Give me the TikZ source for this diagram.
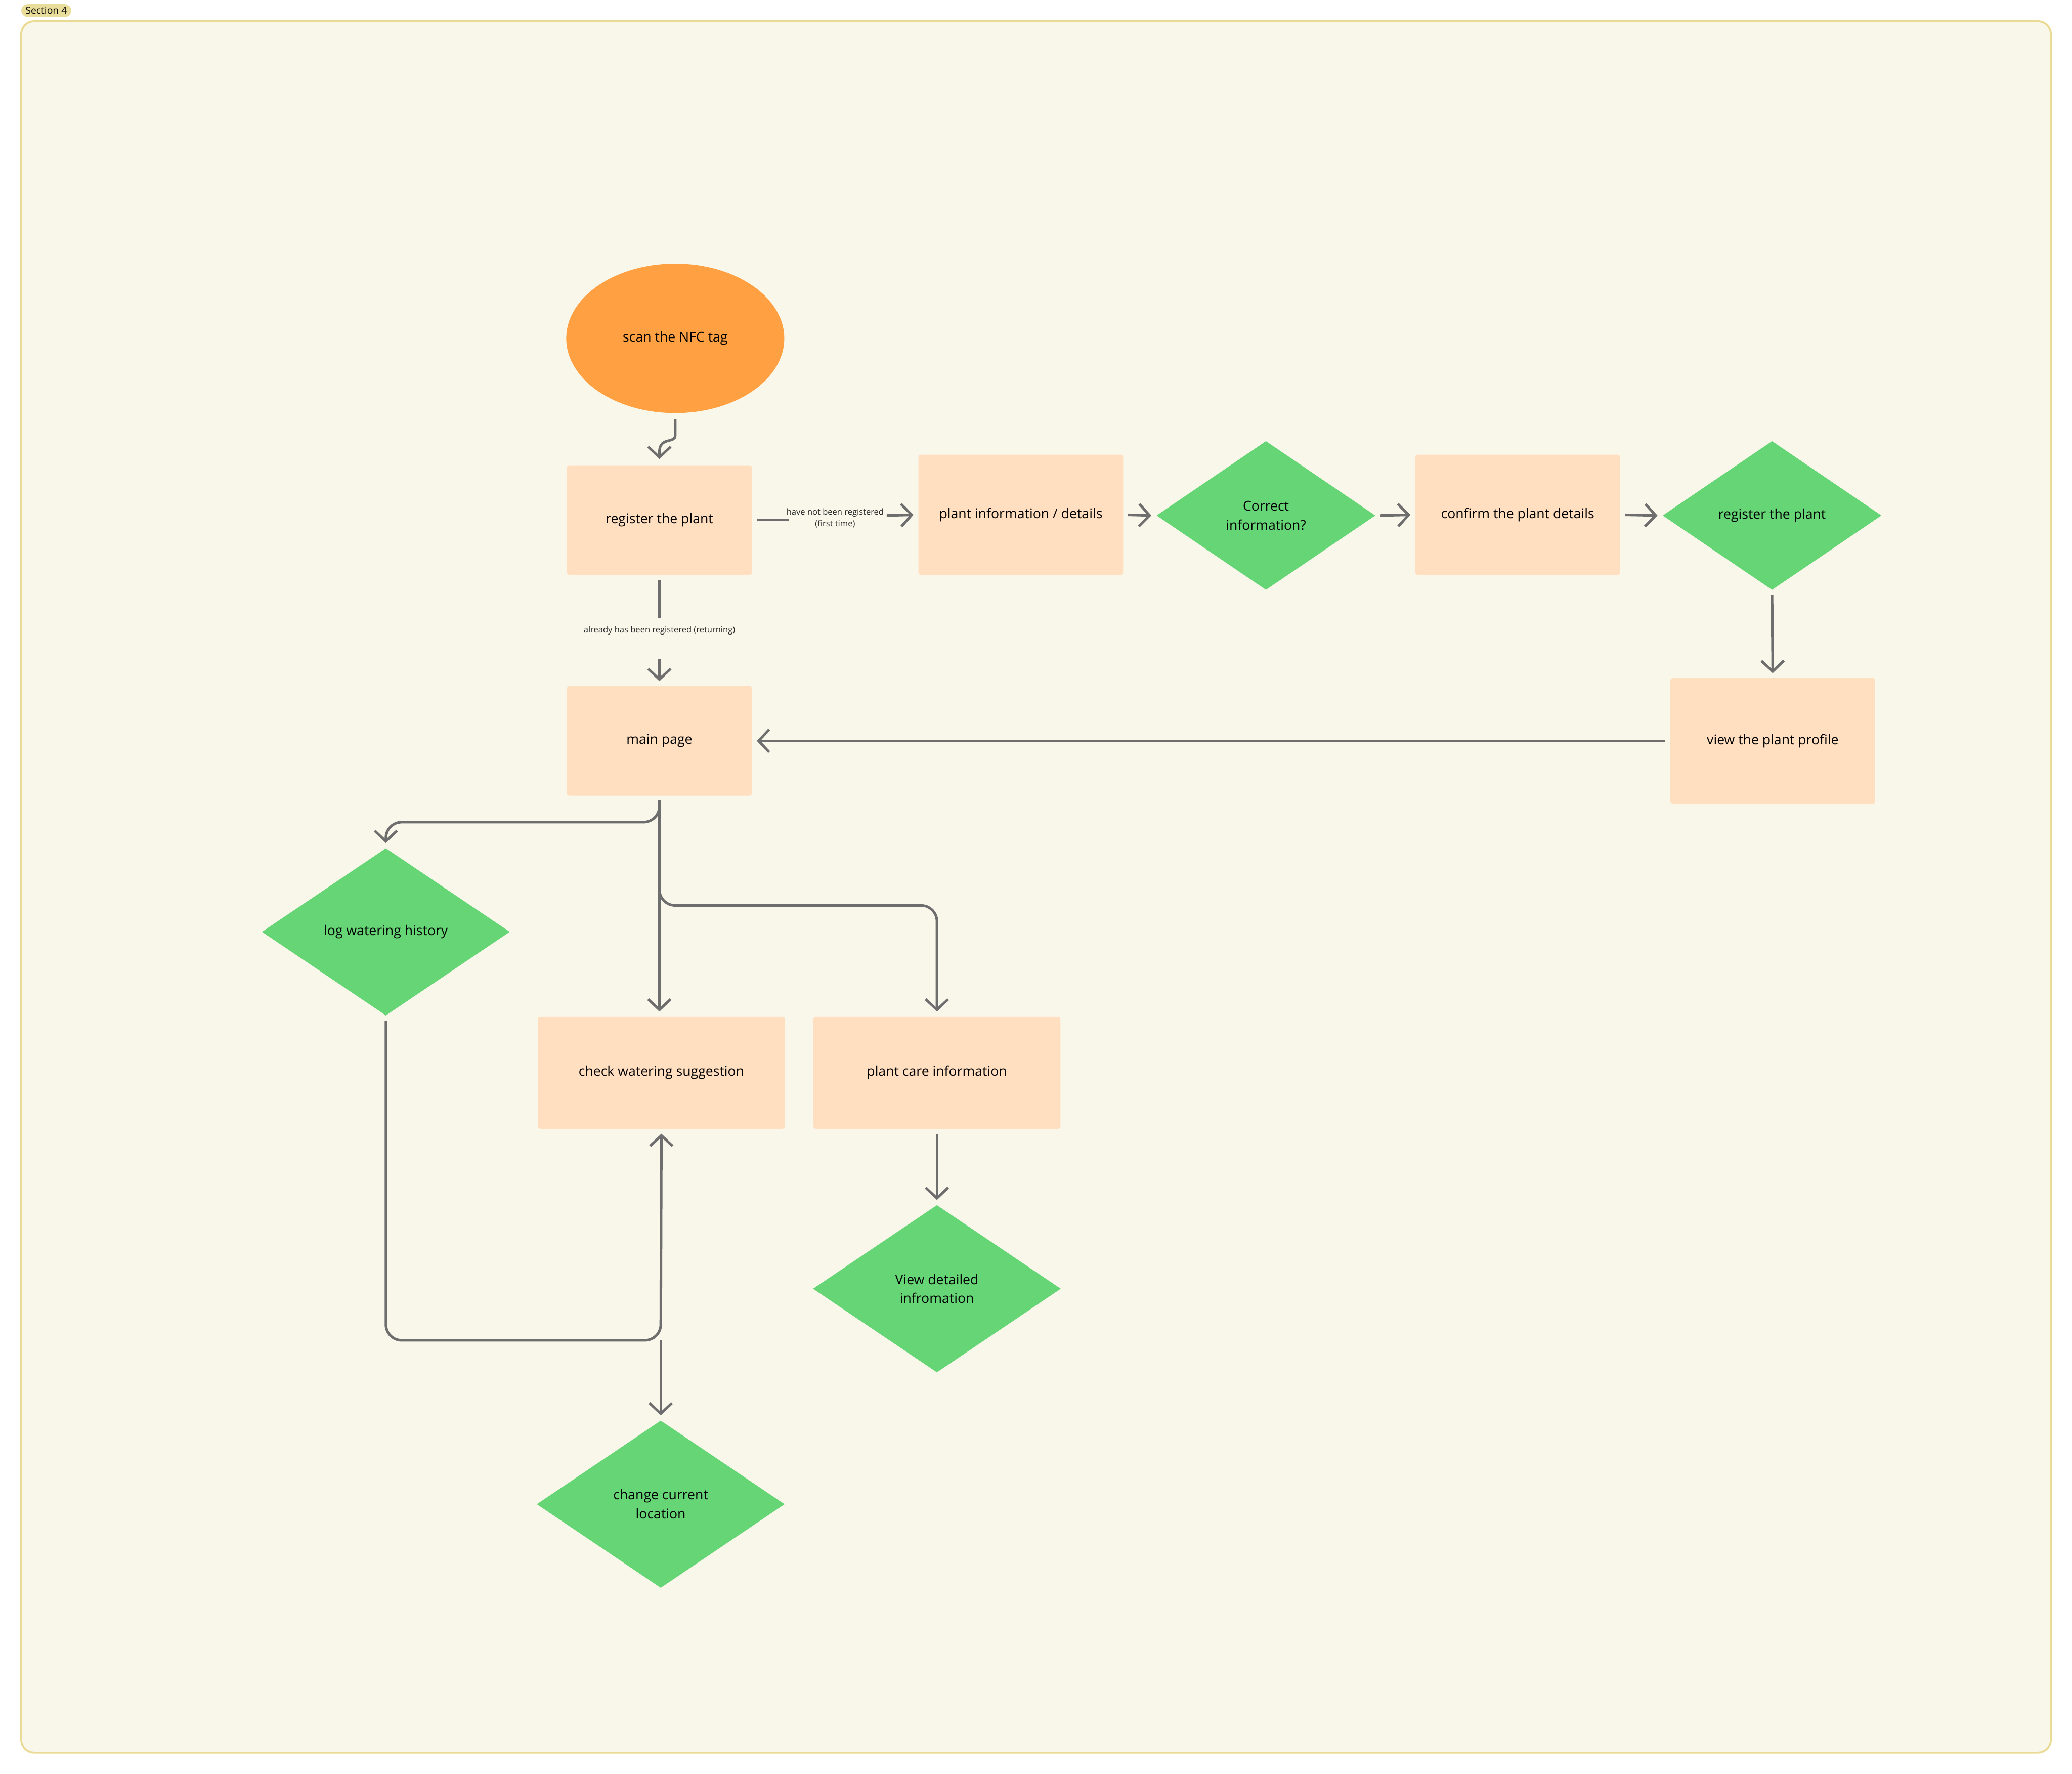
\documentclass[tikz,border=0pt]{standalone}
\usepackage{fontspec}
\setmainfont{Open Sans}
\usetikzlibrary{positioning, arrows.meta, shapes.geometric}
\definecolor{paper}{HTML}{F9F7EA}
\definecolor{frameline}{HTML}{EADB94}
\definecolor{tagfill}{HTML}{E9DD9C}
\definecolor{startorange}{HTML}{FFA142}
\definecolor{stepfill}{HTML}{FFDFC0}
\definecolor{askgreen}{HTML}{66D575}
\definecolor{linkgray}{HTML}{6E6E6E}
\tikzset{
  step/.style={rectangle, fill=stepfill, rounded corners=0.5pt, inner sep=0pt, minimum width=#1, font=\fontsize{2.9}{4.1}\selectfont, align=center},
  step/.default=1.4cm,
  ask/.style={diamond, fill=askgreen, inner sep=0pt, font=\fontsize{2.9}{4.1}\selectfont, align=center},
  link/.style={-{Straight Barb[length=0.8mm,width=1.7mm]}, linkgray, line width=0.55pt},
  bend link/.style={link, rounded corners=1.2mm},
  tiny label/.style={font=\fontsize{1.8}{2.6}\selectfont, text=black!85, align=center}
}
\begin{document}
\begin{tikzpicture}
  \useasboundingbox (0,0) rectangle (15.68,-13.42);
  \fill[white] (0,0) rectangle (15.68,-13.42);
  % section frame
  \draw[frameline, fill=paper, line width=0.4pt, rounded corners=1mm] (0.16,-0.16) rectangle (15.52,-13.26);
  \node[fill=tagfill, rounded corners=0.5mm, inner sep=0.6pt, font=\fontsize{2.1}{3}\selectfont, minimum width=0.38cm] (tag) at (0.35,-0.08) {Section 4};

  % top row
  \node[ellipse, fill=startorange, minimum width=1.65cm, minimum height=1.13cm, font=\fontsize{2.9}{4.1}\selectfont] (scan) at (5.11,-2.56) {scan the NFC tag};
  \node[step, minimum height=0.83cm] (reg) at (4.99,-3.935) {register the plant};
  \node[step=1.55cm, minimum height=0.91cm] (info) at (7.725,-3.895) {plant information / details};
  \node[ask, minimum width=1.66cm, minimum height=1.13cm] (correct) at (9.58,-3.9) {Correct\\information?};
  \node[step=1.55cm, minimum height=0.91cm] (confirm) at (11.485,-3.895) {confirm the plant details};
  \node[ask, minimum width=1.66cm, minimum height=1.13cm] (regask) at (13.41,-3.9) {register the plant};
  \node[step=1.55cm, minimum height=0.95cm] (profile) at (13.415,-5.605) {view the plant profile};
  \node[step, minimum height=0.83cm] (main) at (4.99,-5.605) {main page};

  % lower part
  \node[ask, minimum width=1.88cm, minimum height=1.27cm] (logw) at (2.92,-7.05) {log watering history};
  \node[step=1.87cm, minimum height=0.85cm] (check) at (5.005,-8.115) {check watering suggestion};
  \node[step=1.87cm, minimum height=0.85cm] (care) at (7.09,-8.115) {plant care information};
  \node[ask, minimum width=1.88cm, minimum height=1.27cm] (detail) at (7.09,-9.75) {View detailed\\infromation};
  \node[ask, minimum width=1.88cm, minimum height=1.27cm] (loc) at (5.0,-11.38) {change current\\location};

  \coordinate (join) at (5.0,-10.14);
  \coordinate (firstend) at (6.71,-3.9);

  % connectors
  \draw[link] ([yshift=-0.04cm]scan.south) -- ++(0,-0.12) .. controls (5.11,-3.36) and (4.99,-3.3) .. (4.99,-3.42) -- ([yshift=0.04cm]reg.north);
  \draw[linkgray, line width=0.55pt] ([xshift=0.03cm]reg.east) -- ++(0.24,0);
  \node[tiny label] (first) at (6.32,-3.92) {have not been registered\\(first time)};
  \draw[link] (firstend) -- ([xshift=-0.03cm]info.west);
  \draw[linkgray, line width=0.55pt] ([yshift=-0.03cm]reg.south) -- ++(0,-0.29);
  \node[tiny label] (back) at (4.99,-4.77) {already has been registered (returning)};
  \draw[link] ([yshift=-0.06cm]back.south) -- ([yshift=0.03cm]main.north);
  \draw[link] ([xshift=0.03cm]info.east) -- ([xshift=-0.03cm]correct.west);
  \draw[link] ([xshift=0.03cm]correct.east) -- ([xshift=-0.03cm]confirm.west);
  \draw[link] ([xshift=0.03cm]confirm.east) -- ([xshift=-0.03cm]regask.west);
  \draw[link] ([yshift=-0.03cm]regask.south) -- ([yshift=0.03cm]profile.north);
  \draw[link] ([xshift=-0.03cm]profile.west) -- ([xshift=0.03cm]main.east);

  \draw[bend link] ([yshift=-0.03cm]main.south) |- (3.5,-6.22) -| ([yshift=0.03cm]logw.north);
  \draw[link] ([yshift=-0.03cm]main.south) -- ([yshift=0.03cm]main.south |- check.north);
  \draw[bend link] ([yshift=-0.03cm]main.south) |- (6.0,-6.85) -| ([yshift=0.03cm]care.north);
  \draw[bend link] ([yshift=-0.03cm]logw.south) |- (join) -- ([yshift=-0.03cm]check.south);
  \draw[link] (join) -- ([yshift=0.03cm]loc.north);
  \draw[link] ([yshift=-0.03cm]care.south) -- ([yshift=0.03cm]detail.north);
\end{tikzpicture}
\end{document}
